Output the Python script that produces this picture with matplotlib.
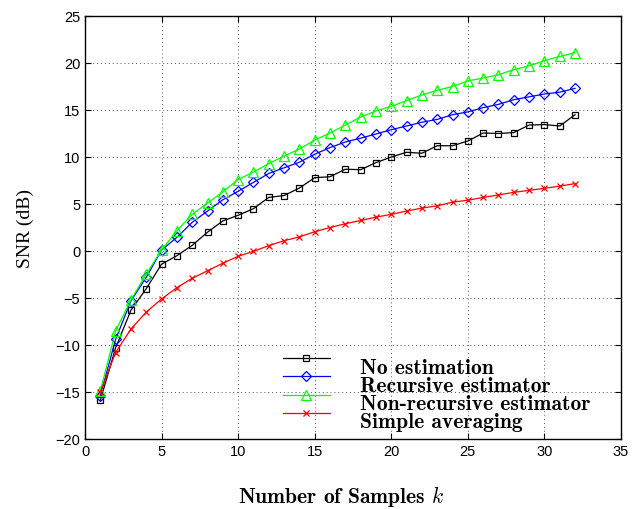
import matplotlib
matplotlib.use("Agg")
import matplotlib.pyplot as plt
import numpy as np

plt.rcParams["mathtext.fontset"] = "cm"

k = np.arange(1, 33)

no_estimation = [-15.9, -10.3, -6.3, -4.0, -1.4, -0.5, 0.6, 2.0, 3.2, 3.8,
                 4.5, 5.7, 5.9, 6.7, 7.8, 7.9, 8.7, 8.65, 9.4, 10.0,
                 10.5, 10.4, 11.2, 11.2, 11.7, 12.55, 12.5, 12.6, 13.4, 13.45,
                 13.3, 14.5]
recursive = [-15.4, -9.4, -5.3, -2.8, 0.1, 1.45, 3.05, 4.25, 5.45, 6.35,
             7.3, 8.25, 8.85, 9.45, 10.3, 11.0, 11.6, 12.0, 12.45, 12.9,
             13.3, 13.7, 14.0, 14.5, 14.8, 15.25, 15.6, 16.1, 16.4, 16.7,
             16.9, 17.3]
non_recursive = [-14.9, -8.5, -5.2, -2.45, 0.1, 2.15, 3.9, 5.1, 6.3, 7.6,
                 8.4, 9.3, 10.1, 10.85, 11.8, 12.55, 13.4, 14.25, 14.9, 15.4,
                 16.0, 16.6, 17.1, 17.5, 18.1, 18.4, 18.75, 19.3, 19.7, 20.25,
                 20.7, 21.1]
simple_avg = [-15.0, -10.8, -8.3, -6.5, -5.1, -3.9, -2.9, -2.1, -1.3, -0.56,
              -0.03, 0.57, 1.1, 1.5, 2.05, 2.5, 2.9, 3.25, 3.6, 3.9,
              4.25, 4.57, 4.8, 5.2, 5.4, 5.7, 5.96, 6.24, 6.45, 6.67,
              6.9, 7.17]

labels = ["No estimation", "Recursive estimator",
          "Non-recursive estimator", "Simple averaging"]

fig = plt.figure(figsize=(6.34, 5.10), dpi=100)
ax = fig.add_axes([85 / 634, 1 - 440 / 510, 536 / 634, 423 / 510])

lw = 0.9
ax.plot(k, no_estimation, color="k", marker="s", mfc="none", ms=5, lw=lw, mew=0.9)
ax.plot(k, recursive, color="#0000ff", marker="D", mfc="none", ms=5.5, lw=lw, mew=0.9)
ax.plot(k, non_recursive, color="#00ff00", marker="^", mfc="none", ms=6.5, lw=lw, mew=0.9)
ax.plot(k, simple_avg, color="#ff0000", marker="x", ms=4, lw=lw, mew=0.9)

ax.set_xlim(0, 35)
ax.set_ylim(-20, 25)
ax.set_xticks(np.arange(0, 36, 5))
ax.set_yticks(np.arange(-20, 26, 5))
ax.grid(True, linestyle=(0, (1, 3)), color="#555555", linewidth=0.7)
ax.tick_params(direction="in", top=True, right=True, length=4, labelsize=10.5)
for lab in ax.get_xticklabels() + ax.get_yticklabels():
    lab.set_family("Liberation Sans")
for s in ax.spines.values():
    s.set_linewidth(1.0)

ax.set_xlabel(r"Number of Samples $k$", family="cmb10", fontsize=15.5)
ax.xaxis.set_label_coords(0.4785, -0.105)
ax.set_ylabel("SNR (dB)", family="Liberation Serif", fontsize=14, labelpad=15)

leg = ax.legend(labels, loc="upper left", bbox_to_anchor=(0.369, 0.209),
                frameon=False, borderpad=0, borderaxespad=0,
                handlelength=2.19, handletextpad=1.42, labelspacing=-0.04,
                prop={"family": "cmb10", "size": 15.5})
# text sits a bit below its handle, as in the original
for t in leg.get_texts():
    t.set_position((0, -7))

fig.savefig("out.png", dpi=100)
